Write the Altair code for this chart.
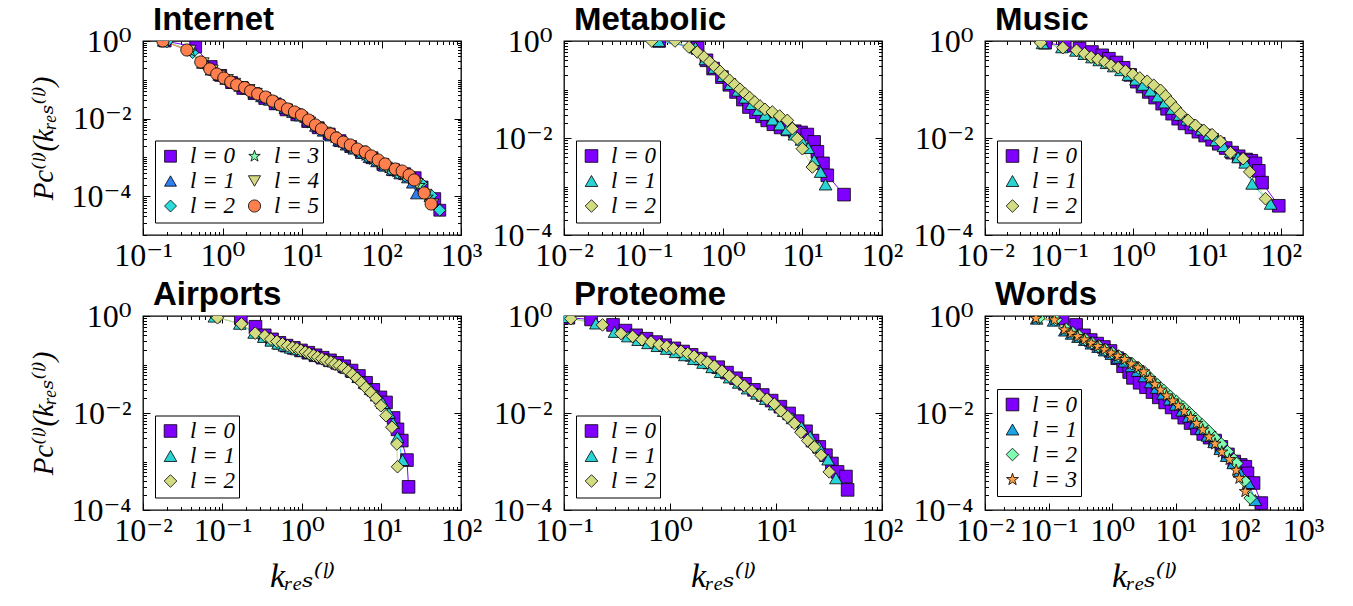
import altair as alt
import pandas as pd

SERIF = "'Liberation Serif', 'DejaVu Serif', serif"
SANS = "'Liberation Sans', Arial, sans-serif"

# ---------------- Internet ----------------
internet_l0_k = [0.19, 0.46, 0.72, 0.95, 1.3, 1.8, 2.5, 3.4, 4.6, 6.3, 8.6, 11.8, 16, 22, 30, 41, 56, 76, 104, 142, 195, 265, 324, 468, 541]
internet_l0_p = [1.0, 0.70, 0.22, 0.13, 0.085, 0.060, 0.044, 0.033, 0.024, 0.0168, 0.0125, 0.0084, 0.0058, 0.0040, 0.0027, 0.0019, 0.00138, 0.00098, 0.00066, 0.00048, 0.00038, 0.00030, 0.000173, 0.0000867, 0.0000435]
internet_l1_k = [0.18, 0.38, 0.56, 0.72, 0.9, 1.1, 1.35, 1.65, 2.0, 2.5, 3.1, 3.9, 4.9, 6.1, 7.6, 9.5, 11.9, 14.8, 18.5, 23, 29, 36, 45, 56, 70, 87, 109, 136, 170, 212, 245, 275]
internet_l1_p = [1.0, 0.60, 0.27, 0.18, 0.132, 0.104, 0.083, 0.069, 0.058, 0.046, 0.037, 0.030, 0.024, 0.0185, 0.0146, 0.0118, 0.0088, 0.0064, 0.0048, 0.0036, 0.0027, 0.0021, 0.00165, 0.00128, 0.00100, 0.00078, 0.00060, 0.00047, 0.00038, 0.00030, 0.00022, 0.000116]
internet_l2_k = [0.2, 0.42, 0.6, 0.78, 0.97, 1.2, 1.48, 1.82, 2.25, 2.8, 3.5, 4.4, 5.5, 6.9, 8.6, 10.8, 13.5, 16.9, 21, 26.5, 33, 41.5, 52, 65, 81, 101, 127, 158, 198, 250, 318, 425, 541]
internet_l2_p = [0.95, 0.50, 0.24, 0.16, 0.118, 0.092, 0.075, 0.063, 0.051, 0.041, 0.033, 0.026, 0.0205, 0.0160, 0.0128, 0.0100, 0.0073, 0.0054, 0.0040, 0.0030, 0.0023, 0.00180, 0.00140, 0.00108, 0.00084, 0.00065, 0.00050, 0.00040, 0.00033, 0.00026, 0.000213, 0.000105, 0.0000435]
internet_l3_k = [0.19, 0.4, 0.58, 0.75, 0.95, 1.18, 1.45, 1.8, 2.2, 2.75, 3.4, 4.25, 5.3, 6.6, 8.3, 10.4, 13, 16.3, 20.4, 25.5, 32, 40, 50, 62.5, 78, 98, 122, 153, 191, 240, 300, 380]
internet_l3_p = [1.0, 0.55, 0.26, 0.17, 0.125, 0.097, 0.078, 0.065, 0.053, 0.043, 0.034, 0.027, 0.0215, 0.0168, 0.0133, 0.0104, 0.0077, 0.0057, 0.0042, 0.0032, 0.0024, 0.00185, 0.00145, 0.00112, 0.00088, 0.00068, 0.00053, 0.00042, 0.00035, 0.00028, 0.00019, 0.000095]
internet_l4_k = [0.18, 0.39, 0.57, 0.74, 0.92, 1.15, 1.42, 1.75, 2.15, 2.65, 3.3, 4.1, 5.1, 6.4, 8.0, 10, 12.5, 15.6, 19.5, 24.4, 30.5, 38, 47.5, 59, 74, 92, 115, 144, 180, 225, 280, 360, 440]
internet_l4_p = [1.0, 0.57, 0.27, 0.175, 0.128, 0.100, 0.080, 0.066, 0.055, 0.044, 0.035, 0.0275, 0.022, 0.0172, 0.0136, 0.0107, 0.0080, 0.0059, 0.0044, 0.0033, 0.0025, 0.0019, 0.00150, 0.00116, 0.00092, 0.00070, 0.00055, 0.00044, 0.00037, 0.00030, 0.00021, 0.000110, 0.000062]
internet_l5_k = [0.178, 0.356, 0.533, 0.692, 0.847, 1.04, 1.27, 1.51, 1.90, 2.26, 2.77, 3.48, 4.27, 5.37, 6.58, 8.05, 9.86, 12.1, 14.8, 17.6, 22.8, 27.1, 33.1, 40.6, 49.7, 62.5, 74.3, 91.0, 111, 149, 182, 223, 258, 344, 421]
internet_l5_p = [1.0, 0.586, 0.288, 0.190, 0.141, 0.111, 0.0877, 0.0740, 0.0630, 0.0514, 0.0431, 0.0360, 0.0284, 0.0224, 0.0177, 0.0148, 0.0124, 0.0092, 0.00684, 0.00540, 0.00401, 0.00316, 0.00249, 0.00209, 0.00164, 0.00138, 0.00109, 0.000857, 0.000676, 0.000502, 0.000446, 0.000352, 0.000262, 0.000121, 0.0000629]

# ---------------- Metabolic ----------------
metabolic_l0_k = [0.157, 0.48, 0.62, 0.75, 0.97, 1.2, 1.46, 1.78, 2.12, 2.6, 3.1, 3.6, 4.3, 5.3, 6.5, 8.0, 9.6, 11.5, 14.0, 15.4, 18.1, 20.5, 33.3]
metabolic_l0_p = [1.0, 0.72, 0.40, 0.27, 0.18, 0.125, 0.089, 0.062, 0.0435, 0.034, 0.028, 0.0231, 0.0192, 0.0165, 0.0150, 0.0138, 0.0130, 0.0118, 0.0083, 0.0052, 0.0030, 0.0017, 0.00068]
metabolic_l1_k = [0.155, 0.45, 0.6, 0.78, 1.0, 1.25, 1.55, 1.9, 2.3, 2.8, 3.4, 4.2, 5.2, 6.4, 7.9, 9.7, 11.8, 14.0, 16.9, 19.5]
metabolic_l1_p = [1.0, 0.74, 0.42, 0.28, 0.19, 0.13, 0.095, 0.068, 0.050, 0.038, 0.030, 0.024, 0.019, 0.0150, 0.0118, 0.0092, 0.0062, 0.0035, 0.0020, 0.0011]
metabolic_l2_k = [0.127, 0.249, 0.373, 0.475, 0.577, 0.681, 0.793, 0.917, 1.05, 1.21, 1.40, 1.64, 1.89, 2.17, 2.51, 2.92, 3.37, 4.17, 5.16, 6.44, 7.45, 8.61, 9.96, 13.3]
metabolic_l2_p = [1.0, 1.0, 0.751, 0.593, 0.468, 0.369, 0.291, 0.237, 0.190, 0.155, 0.126, 0.101, 0.082, 0.068, 0.0553, 0.0457, 0.039, 0.0344, 0.0284, 0.0231, 0.0156, 0.0097, 0.0060, 0.00252]

# ---------------- Music ----------------
music_l0_k = [0.065, 0.12, 0.19, 0.28, 0.385, 0.474, 0.60, 0.75, 0.92, 1.13, 1.35, 1.64, 2.0, 2.49, 2.9, 3.4, 4.1, 5.0, 6.2, 7.7, 9.5, 11.8, 14.5, 18, 22, 27, 34, 40, 45.5, 50.5, 55.9, 94]
music_l0_p = [0.92, 0.80, 0.70, 0.593, 0.507, 0.431, 0.36, 0.28, 0.20, 0.145, 0.115, 0.089, 0.068, 0.051, 0.040, 0.0317, 0.025, 0.020, 0.0165, 0.0135, 0.0112, 0.0092, 0.0076, 0.0062, 0.0050, 0.0042, 0.0036, 0.0034, 0.0030, 0.0021, 0.0012, 0.00040]
music_l1_k = [0.06, 0.11, 0.17, 0.22, 0.28, 0.35, 0.44, 0.55, 0.69, 0.87, 1.1, 1.38, 1.73, 2.17, 2.7, 3.4, 4.3, 5.4, 6.8, 8.5, 10.7, 13.4, 16.8, 21, 26.5, 33, 41, 73]
music_l1_p = [0.90, 0.74, 0.63, 0.54, 0.46, 0.40, 0.35, 0.30, 0.25, 0.20, 0.16, 0.125, 0.095, 0.072, 0.054, 0.040, 0.030, 0.024, 0.019, 0.015, 0.0118, 0.0090, 0.0068, 0.0052, 0.0040, 0.0031, 0.00114, 0.00044]
music_l2_k = [0.0566, 0.113, 0.173, 0.222, 0.273, 0.336, 0.419, 0.509, 0.633, 0.796, 1.0, 1.24, 1.56, 1.92, 2.37, 2.77, 3.23, 3.78, 4.41, 5.59, 7.03, 9.10, 11.8, 15.3, 20.9, 31.0, 38.1, 62.1]
music_l2_p = [0.92, 0.728, 0.643, 0.547, 0.468, 0.419, 0.369, 0.315, 0.282, 0.241, 0.206, 0.173, 0.148, 0.122, 0.0962, 0.0734, 0.0553, 0.0416, 0.0318, 0.0231, 0.0182, 0.0144, 0.0117, 0.00853, 0.00499, 0.00374, 0.0020, 0.00056]

# ---------------- Airports ----------------
airports_l0_k = [0.17, 0.26, 0.34, 0.42, 0.52, 0.64, 0.79, 0.97, 1.2, 1.48, 1.82, 2.25, 2.77, 3.4, 4.2, 5.2, 6.4, 7.9, 9.7, 11.4, 14.2, 15.9, 18.0, 20.9, 21.9]
airports_l0_p = [0.89, 0.60, 0.40, 0.33, 0.28, 0.245, 0.22, 0.195, 0.175, 0.155, 0.138, 0.122, 0.108, 0.092, 0.075, 0.058, 0.042, 0.030, 0.021, 0.0165, 0.0079, 0.0046, 0.0027, 0.00107, 0.00030]
airports_l1_k = [0.079, 0.165, 0.25, 0.33, 0.41, 0.50, 0.60, 0.72, 0.86, 1.03, 1.23, 1.47, 1.76, 2.1, 2.5, 3.0, 3.6, 4.3, 5.1, 6.1, 7.3, 8.7, 10.4, 12.4, 14.0, 15.9, 18.4]
airports_l1_p = [0.97, 0.69, 0.45, 0.37, 0.31, 0.27, 0.245, 0.222, 0.205, 0.19, 0.172, 0.156, 0.142, 0.128, 0.115, 0.100, 0.085, 0.070, 0.055, 0.042, 0.031, 0.023, 0.016, 0.0100, 0.0062, 0.0032, 0.00107]
airports_l2_k = [0.0865, 0.173, 0.258, 0.341, 0.406, 0.483, 0.569, 0.658, 0.760, 0.863, 0.968, 1.10, 1.23, 1.40, 1.57, 1.78, 2.0, 2.31, 2.59, 2.94, 3.33, 3.81, 4.32, 4.90, 5.60, 6.36, 7.36, 8.51, 9.83, 11.4, 13.5, 15.6, 15.9]
airports_l2_p = [0.92, 0.687, 0.442, 0.391, 0.333, 0.299, 0.268, 0.244, 0.226, 0.212, 0.196, 0.181, 0.168, 0.155, 0.143, 0.132, 0.122, 0.113, 0.103, 0.0955, 0.0853, 0.073, 0.0625, 0.0518, 0.0422, 0.0333, 0.0263, 0.0202, 0.0141, 0.0088, 0.0051, 0.0023, 0.00078]

# ---------------- Proteome ----------------
proteome_l0_k = [0.11, 0.18, 0.29, 0.38, 0.48, 0.60, 0.74, 0.90, 1.1, 1.33, 1.6, 1.95, 2.35, 2.85, 3.45, 4.2, 5.1, 6.2, 7.5, 9.1, 11.0, 13.3, 16.0, 19.2, 22.1, 25.6, 29.6, 33.7, 38.1, 45.7, 47.4]
proteome_l0_p = [0.92, 0.85, 0.655, 0.50, 0.40, 0.34, 0.29, 0.25, 0.215, 0.185, 0.158, 0.132, 0.110, 0.088, 0.068, 0.052, 0.040, 0.030, 0.0235, 0.0180, 0.0135, 0.0098, 0.0068, 0.0042, 0.0027, 0.0020, 0.00135, 0.00091, 0.00061, 0.00049, 0.00026]
proteome_l1_k = [0.105, 0.2, 0.3, 0.4, 0.5, 0.62, 0.76, 0.93, 1.13, 1.38, 1.68, 2.05, 2.5, 3.0, 3.65, 4.45, 5.4, 6.6, 8.0, 9.7, 11.8, 14.3, 17.4, 21, 25.5, 31, 36.8]
proteome_l1_p = [0.95, 0.70, 0.47, 0.38, 0.32, 0.275, 0.24, 0.21, 0.18, 0.155, 0.13, 0.108, 0.088, 0.070, 0.054, 0.042, 0.032, 0.025, 0.0195, 0.0150, 0.0110, 0.0078, 0.0052, 0.0033, 0.0020, 0.0011, 0.00045]
proteome_l2_k = [0.116, 0.231, 0.345, 0.444, 0.544, 0.662, 0.793, 0.929, 1.08, 1.27, 1.47, 1.69, 1.96, 2.26, 2.62, 3.09, 3.62, 4.29, 5.02, 5.94, 6.95, 8.22, 9.64, 11.1, 12.9, 14.9, 17.2, 19.9, 23.0, 26.6, 31.8]
proteome_l2_p = [0.88, 0.655, 0.435, 0.378, 0.324, 0.290, 0.256, 0.236, 0.212, 0.187, 0.168, 0.148, 0.127, 0.111, 0.0923, 0.073, 0.0577, 0.0456, 0.0361, 0.0285, 0.0233, 0.0193, 0.0153, 0.0111, 0.0084, 0.0061, 0.0040, 0.0027, 0.0020, 0.00135, 0.00061]

# ---------------- Words ----------------
words_l0_k = [0.166, 0.271, 0.36, 0.46, 0.58, 0.74, 0.94, 1.2, 1.48, 1.85, 2.12, 2.7, 3.4, 4.3, 5.4, 6.8, 8.6, 10.8, 13.6, 17.1, 21.5, 27, 34, 41.5, 52, 66, 83, 105, 124, 134, 167, 221]
words_l0_p = [0.89, 0.655, 0.40, 0.32, 0.27, 0.23, 0.19, 0.135, 0.092, 0.070, 0.053, 0.042, 0.034, 0.027, 0.021, 0.0165, 0.0130, 0.0102, 0.0080, 0.0062, 0.0048, 0.0037, 0.0031, 0.0027, 0.0020, 0.00140, 0.00100, 0.00085, 0.00078, 0.00057, 0.00036, 0.000139]
words_l1_k = [0.065, 0.12, 0.18, 0.23, 0.29, 0.37, 0.47, 0.60, 0.76, 0.97, 1.23, 1.56, 2.0, 2.5, 3.2, 4.0, 5.0, 6.3, 8.0, 10, 12.6, 15.9, 20, 25, 31.6, 40, 50, 63, 80, 100, 139, 178]
words_l1_p = [0.88, 0.80, 0.50, 0.43, 0.37, 0.32, 0.27, 0.23, 0.195, 0.165, 0.138, 0.115, 0.092, 0.074, 0.057, 0.043, 0.033, 0.025, 0.019, 0.0148, 0.0112, 0.0084, 0.0063, 0.0047, 0.0034, 0.0025, 0.0018, 0.0013, 0.00092, 0.00062, 0.00036, 0.00016]
words_l2_k = [0.07, 0.13, 0.19, 0.24, 0.3, 0.38, 0.48, 0.61, 0.78, 1.0, 1.27, 1.6, 2.05, 2.6, 3.3, 4.1, 5.2, 6.5, 8.2, 10.3, 13, 16.4, 20.6, 26, 33, 41, 52, 65, 82, 91, 120, 148]
words_l2_p = [0.90, 0.84, 0.53, 0.45, 0.39, 0.33, 0.28, 0.24, 0.205, 0.175, 0.15, 0.128, 0.104, 0.085, 0.067, 0.050, 0.038, 0.029, 0.022, 0.0172, 0.0134, 0.0101, 0.0076, 0.0057, 0.0042, 0.0031, 0.0023, 0.0016, 0.0011, 0.00091, 0.00040, 0.000176]
words_l3_k = [0.0632, 0.123, 0.177, 0.226, 0.287, 0.366, 0.468, 0.595, 0.759, 0.968, 1.23, 1.57, 2.0, 2.55, 3.13, 3.9, 4.68, 5.75, 7.16, 8.9, 10.9, 13.6, 17.1, 21.3, 26.5, 33.3, 41.5, 52.9, 69.8, 89, 100, 124]
words_l3_p = [0.89, 0.83, 0.518, 0.442, 0.378, 0.324, 0.276, 0.236, 0.202, 0.173, 0.148, 0.127, 0.103, 0.0853, 0.0706, 0.0518, 0.0391, 0.0299, 0.0226, 0.0178, 0.0141, 0.0108, 0.0081, 0.0061, 0.0045, 0.0032, 0.0023, 0.00157, 0.0011, 0.00066, 0.00045, 0.00024]

series_labels = ["l = 0", "l = 1", "l = 2", "l = 3", "l = 4", "l = 5"]
STAR = "M0,-1L0.2245,-0.309L0.951,-0.309L0.363,0.118L0.588,0.809L0,0.427L-0.588,0.809L-0.363,0.118L-0.951,-0.309L-0.2245,-0.309Z"

internet_colors = ["#7f00ff", "#2f7ff0", "#2adcdc", "#80ffb2", "#d4d882", "#ff7f4e"]
internet_shapes = ["square", "triangle-up", "diamond", STAR, "triangle-down", "circle"]
internet_sizes = [140, 150, 210, 120, 150, 200]
three_colors = ["#7f00ff", "#2ad4d4", "#d4dc82"]
three_shapes = ["square", "triangle-up", "diamond"]
three_sizes = [160, 160, 250]
words_colors = ["#7f00ff", "#1aa6e6", "#80ffb4", "#ffa048"]
words_shapes = ["square", "triangle-up", "diamond", STAR]
words_sizes = [160, 160, 250, 120]

SUPERS = ["10⁻⁵", "10⁻⁴", "10⁻³", "10⁻²", "10⁻¹", "10⁰", "10¹", "10²", "10³"]
LABEL_EXPR = "[" + ",".join("'" + s + "'" for s in SUPERS) + "][round(log(datum.value)/LN10)+5]"

W, H = 318, 194
MAJ, MIN = 7, 3.5
ROW_H = 26.5


def decades(lo, hi):
    return [10.0 ** e for e in range(lo, hi + 1)]


def minors(lo, hi, top):
    out = []
    for e in range(lo, hi + 1):
        for m in range(2, 10):
            v = m * 10.0 ** e
            if v < top:
                out.append(v)
    return out


def axis(orient, values, size, labels=False, title=None, title_pad=0, title_size=34):
    kw = dict(orient=orient, values=values, offset=-size, tickSize=size, tickColor="black",
              tickWidth=1, domain=False, grid=False)
    if labels:
        kw.update(labelExpr=LABEL_EXPR, labelFont=SERIF, labelFontSize=32, labelColor="black",
                  labelOverlap=False, labelFlush=False,
                  labelPadding=12 if orient == "left" else 5)
    else:
        kw.update(labels=False)
    if title:
        kw.update(title=title, titleFont=SERIF, titleFontSize=title_size, titleFontStyle="italic",
                  titleFontWeight="normal", titleColor="black", titlePadding=title_pad)
    else:
        kw.update(title=None)
    return alt.Axis(**kw)


def panel(name, series, xexp, xtop, yexp, colors, shapes, sizes, cols, ytitle, xtitle):
    rows = []
    for lab, ks, ps in series:
        for k, p in zip(ks, ps):
            rows.append({"k": k, "P": p, "l": lab})
    df = pd.DataFrame(rows)
    dom = [s[0] for s in series]
    crange = list(colors)
    srange = list(shapes)
    zrange = list(sizes)
    nrows = -(-len(dom) // cols)

    xs = alt.Scale(type="log", domain=[10.0 ** xexp[0], xtop], nice=False)
    ys = alt.Scale(type="log", domain=[10.0 ** yexp[0], 1.0], nice=False)
    xmaj = [v for v in decades(xexp[0], xexp[1]) if v <= xtop * 1.0001]
    xmin = minors(xexp[0], xexp[1], xtop)
    ylab = [10.0 ** e for e in range(0, yexp[0] - 1, -2) if e >= yexp[0]]
    ymin = [10.0 ** e for e in range(yexp[0], 1) if (10.0 ** e) not in ylab] + minors(yexp[0], -1, 1.0)

    base = alt.Chart(df)
    # line colours: same mapping, domain listed in reverse so its (hidden) legend stays apart
    lines = base.mark_line(strokeWidth=1, clip=True).encode(
        x=alt.X("k:Q", scale=xs, axis=axis("bottom", xmaj, MAJ, labels=True,
                                            title="kᵣₑₛ⁽ˡ⁾" if xtitle else None, title_pad=13)),
        y=alt.Y("P:Q", scale=ys, axis=axis("left", ylab, MAJ, labels=True,
                                            title="Pc⁽ˡ⁾(kᵣₑₛ⁽ˡ⁾)" if ytitle else None, title_pad=12,
                                            title_size=29)),
        stroke=alt.Stroke("l:N", scale=alt.Scale(domain=dom[::-1], range=crange[::-1]), legend=None),
        order=alt.Order("k:Q"),
    )
    leg = alt.Legend(title=None, orient="none", legendX=12, legendY=H - 12 - (nrows * ROW_H + 3),
                     columns=cols, strokeColor="black", fillColor="white", padding=4,
                     labelFont=SERIF, labelFontSize=23, labelFontStyle="italic", labelColor="black",
                     labelOffset=8, rowPadding=1, columnPadding=8, symbolStrokeColor="black",
                     symbolStrokeWidth=0.8)
    pts = base.mark_point(filled=True, opacity=1, stroke="black", strokeWidth=0.8, clip=True).encode(
        x=alt.X("k:Q", scale=xs, axis=axis("bottom", xmin, MIN)),
        y=alt.Y("P:Q", scale=ys, axis=axis("left", ymin, MIN)),
        color=alt.Color("l:N", scale=alt.Scale(domain=dom, range=crange), legend=leg),
        shape=alt.Shape("l:N", scale=alt.Scale(domain=dom, range=srange), legend=leg),
        size=alt.Size("l:N", scale=alt.Scale(domain=dom, range=zrange), legend=leg),
    )
    top1 = base.mark_point(opacity=0).encode(
        x=alt.X("k:Q", scale=xs, axis=axis("top", xmaj, MAJ)),
        y=alt.Y("P:Q", scale=ys, axis=axis("right", ylab, MAJ)),
    )
    top2 = base.mark_point(opacity=0).encode(
        x=alt.X("k:Q", scale=xs, axis=axis("top", xmin, MIN)),
        y=alt.Y("P:Q", scale=ys, axis=axis("right", ymin, MIN)),
    )
    return alt.layer(lines, pts, top1, top2).resolve_axis(x="independent", y="independent").properties(
        width=W, height=H,
        title=alt.TitleParams(name, anchor="start", frame="group", dx=10, dy=22, offset=10, font=SANS,
                              fontSize=33, fontWeight="bold", color="black"),
    )


L3 = series_labels[:3]
p_internet = panel("Internet",
                   [(series_labels[0], internet_l0_k, internet_l0_p), (series_labels[1], internet_l1_k, internet_l1_p),
                    (series_labels[2], internet_l2_k, internet_l2_p), (series_labels[3], internet_l3_k, internet_l3_p),
                    (series_labels[4], internet_l4_k, internet_l4_p), (series_labels[5], internet_l5_k, internet_l5_p)],
                   (-1, 3), 1000.0, (-5, 0), internet_colors, internet_shapes, internet_sizes, 2, True, False)
p_metabolic = panel("Metabolic",
                    [(L3[0], metabolic_l0_k, metabolic_l0_p), (L3[1], metabolic_l1_k, metabolic_l1_p),
                     (L3[2], metabolic_l2_k, metabolic_l2_p)],
                    (-2, 2), 100.0, (-4, 0), three_colors, three_shapes, three_sizes, 1, False, False)
p_music = panel("Music",
                [(L3[0], music_l0_k, music_l0_p), (L3[1], music_l1_k, music_l1_p), (L3[2], music_l2_k, music_l2_p)],
                (-2, 2), 200.0, (-4, 0), three_colors, three_shapes, three_sizes, 1, False, False)
p_airports = panel("Airports",
                   [(L3[0], airports_l0_k, airports_l0_p), (L3[1], airports_l1_k, airports_l1_p),
                    (L3[2], airports_l2_k, airports_l2_p)],
                   (-2, 2), 100.0, (-4, 0), three_colors, three_shapes, three_sizes, 1, True, True)
p_proteome = panel("Proteome",
                   [(L3[0], proteome_l0_k, proteome_l0_p), (L3[1], proteome_l1_k, proteome_l1_p),
                    (L3[2], proteome_l2_k, proteome_l2_p)],
                   (-1, 2), 100.0, (-4, 0), three_colors, three_shapes, three_sizes, 1, False, True)
p_words = panel("Words",
                [(series_labels[0], words_l0_k, words_l0_p), (series_labels[1], words_l1_k, words_l1_p),
                 (series_labels[2], words_l2_k, words_l2_p), (series_labels[3], words_l3_k, words_l3_p)],
                (-2, 3), 1000.0, (-4, 0), words_colors, words_shapes, words_sizes, 1, False, True)

chart = alt.concat(p_internet, p_metabolic, p_music, p_airports, p_proteome, p_words,
                   columns=3, spacing=alt.RowColnumber(row=81, column=103), bounds="flush").resolve_scale(
    x="independent", y="independent", color="independent", shape="independent",
    size="independent", stroke="independent"
).properties(
    padding={"left": 21, "top": -5, "right": 5, "bottom": 5}, background="white"
).configure_view(stroke="black", strokeWidth=1.3)

chart.save("out.html", embed_options={"renderer": "svg", "actions": False})
